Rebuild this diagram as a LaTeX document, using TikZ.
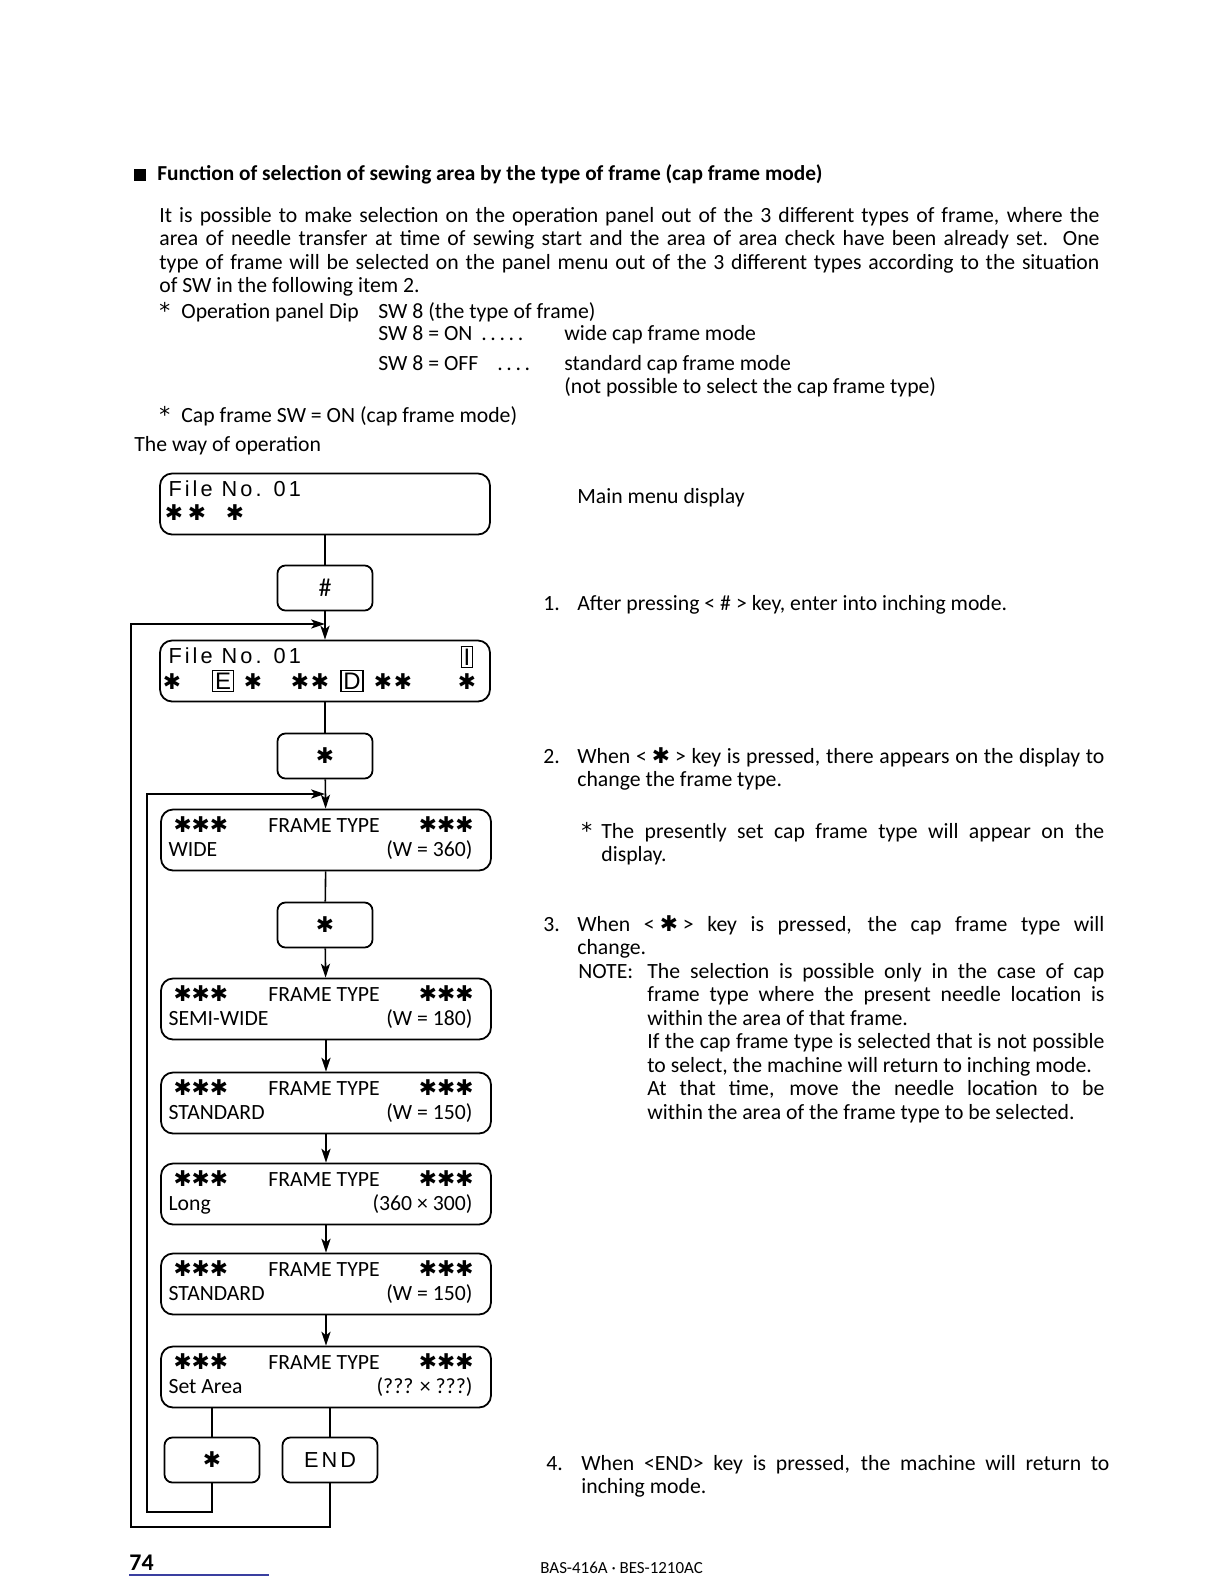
\documentclass[tikz,border=0pt]{standalone}
\usepackage{fontspec}
\setmainfont{Carlito}
\newfontfamily\astfont{DejaVu Sans}
\newfontfamily\lcdfont[LetterSpace=14]{Liberation Sans}
\usetikzlibrary{calc,arrows.meta}
\definecolor{pgline}{HTML}{3A3FA0}
\newcommand\hast{{\astfont\symbol{"2731}}}
\newcommand\bast{{\astfont *}}
\newcommand\keyref[1]{<\hspace{2.5pt}#1\hspace{2.5pt}>}
\newcommand\boxlet[1]{{\setlength\fboxsep{0.8pt}\setlength\fboxrule{0.7pt}\fbox{\fontspec{Liberation Sans}\fontsize{12}{12}\selectfont#1}}}

\begin{document}
\begin{tikzpicture}[x=0.5019pt,y=-0.5019pt,font=\fontsize{10.9}{11.8}\selectfont,
  txt/.style={inner sep=0,anchor=base west},
  disp/.style={draw,line width=0.9pt,rounded corners=6pt,minimum width=165.6pt,minimum height=30.6pt,inner sep=0},
  keybox/.style={draw,line width=0.9pt,rounded corners=4pt,minimum width=47.7pt,minimum height=22.6pt,inner sep=0},
  link/.style={line width=0.8pt},
  arr/.style={line width=0.8pt,-{Stealth[length=7pt,width=4.6pt,inset=1.8pt]}}]
\useasboundingbox[fill=white] (0,0) rectangle (1224,1584);

% heading and intro
\node[fill,minimum size=6pt,inner sep=0] (bul) at (140,175) {};
\node[txt,font=\fontsize{10.7}{11.8}\selectfont\bfseries] (head) at (157,180) {Function of selection of sewing area by the type of frame (cap frame mode)};
\node[txt,text width=471.8pt,align=justify] (intro) at (159,222) {It is possible to make selection on the operation panel out of the 3 different types of frame, where the\linebreak area of needle transfer at time of sewing start and the area of area check have been already set.\ \ One\linebreak type of frame will be selected on the panel menu out of the 3 different types according to the situation\linebreak of SW in the following item 2.};
\node[txt] (opast) at (159,318) {\bast};
\node[txt] (opdip) at (181,318) {Operation panel Dip};
\node[txt] (sw8) at (378,318) {SW 8 (the type of frame)};
\node[txt] (swon) at (378,340) {SW 8 = ON};
\node[txt] (dotsa) at (481,340) {.\,.\,.\,.\,.};
\node[txt] (widem) at (564,340) {wide cap frame mode};
\node[txt] (swoff) at (378,370) {SW 8 = OFF};
\node[txt] (dotsb) at (497,370) {.\,.\,.\,.};
\node[txt] (stdm) at (564,370) {standard cap frame mode};
\node[txt] (notp) at (564,393) {(not possible to select the cap frame type)};
\node[txt] (capast) at (159,422) {\bast};
\node[txt] (capsw) at (181,422) {Cap frame SW = ON (cap frame mode)};
\node[txt] (way) at (134,451) {The way of operation};

% displays and keys
\node[disp] (menu) at (325,504) {};
\node[txt] (menu-a) at ($(menu.north west)+(9,24)$) {\lcdfont File No. 01};
\foreach \x [count=\k] in {174,197,235}
  \node[txt,anchor=base] (menu-s\k) at (\x,520) {\hast};

\node[keybox] (hashk) at (325,588) {\fontsize{13}{13}\selectfont\#};

\node[disp] (inch) at (325,671) {};
\node[txt] (inch-a) at ($(inch.north west)+(9,24)$) {\lcdfont File No. 01};
\node[txt,anchor=base] (inch-i) at (467,665) {\boxlet{I}};
\foreach \x/\c [count=\k] in {172/\hast,223/\boxlet{E},253/\hast,300/\hast,320/\hast,352/\boxlet{D},383/\hast,403/\hast,467/\hast}
  \node[txt,anchor=base] (inch-s\k) at (\x,689) {\c};

\node[keybox] (ast1) at (325,756) {\hast};
\node[keybox] (ast2) at (325,925) {\hast};

\foreach \nm/\cy/\lbl/\val in {wide/840/WIDE/(W = 360),semi/1009/SEMI-WIDE/(W = 180),std/1103/STANDARD/(W = 150),long/1194/Long/(360 × 300),stdb/1284/STANDARD/(W = 150),area/1377/Set Area/(??? × ???)}{
  \node[disp] (\nm) at (326,\cy) {};
  \node[txt] (\nm-l) at ($(\nm.north west)+(13,24)$) {\hast\hast\hast};
  \node[txt,anchor=base] (\nm-t) at ($(\nm.north)+(-2,24)$) {FRAME TYPE};
  \node[txt,anchor=base east] (\nm-r) at ($(\nm.north east)+(-18,24)$) {\hast\hast\hast};
  \node[txt] (\nm-a) at ($(\nm.north west)+(8,48)$) {\lbl};
  \node[txt,anchor=base east] (\nm-v) at ($(\nm.north east)+(-19,48)$) {\val};
}

\node[keybox] (astb) at (212,1460) {\hast};
\node[keybox] (endk) at (330,1460) {\lcdfont END};

% flow
\draw[link] (menu) -- (hashk);
\draw[arr] (hashk) -- (inch);
\draw[link] (inch) -- (ast1);
\draw[arr] (ast1) -- (wide);
\draw[link] (wide) -- (ast2);
\draw[arr] (ast2) -- (semi);
\foreach \a/\b in {semi/std,std/long,long/stdb,stdb/area}
  \draw[arr] (\a) -- (\b);
\draw[link] (area.south -| astb) -- (astb);
\draw[link] (area.south -| endk) -- (endk);

% return loops
\coordinate (loopa) at (147,1512);
\coordinate (loopb) at (131,1527);
\coordinate (joina) at (325,794);
\coordinate (joinb) at (325,624);
\draw[arr] (astb) |- (loopa) |- (joina);
\draw[arr] (endk) |- (loopb) |- (joinb);

% steps
\node[txt] (mmd) at (577,503) {Main menu display};
\node[txt] (n1) at (543,610) {1.};
\node[txt] (s1) at (577,610) {After pressing \keyref{\#} key, enter into inching mode.};
\node[txt] (n2) at (543,763) {2.};
\node[txt,text width=264.5pt,align=justify] (s2) at (577,763) {When \keyref{\hast} key is pressed, there appears on the display to\linebreak change the frame type.};
\node[txt] (n2a) at (581,838) {\bast};
\node[txt,text width=252.4pt,align=justify] (s2a) at (601,838) {The presently set cap frame type will appear on the\linebreak display.};
\node[txt] (n3) at (543,931) {3.};
\node[txt,text width=264.5pt,align=justify] (s3) at (577,931) {When \keyref{\hast} key is pressed, the cap frame type will\linebreak change.};
\node[txt] (note) at (578,978) {NOTE:};
\node[txt,text width=229.4pt,align=justify] (s3n) at (647,978) {The selection is possible only in the case of cap\linebreak frame type where the present needle location is\linebreak within the area of that frame.\\ If the cap frame type is selected that is not possible\linebreak to select, the machine will return to inching mode.\\ At that time, move the needle location to be\linebreak within the area of the frame type to be selected.};
\node[txt] (n4) at (546,1470) {4.};
\node[txt,text width=265pt,align=justify] (s4) at (581,1470) {When <END> key is pressed, the machine will return to\linebreak inching mode.};

% footer
\node[txt,font=\fontsize{12}{14}\selectfont\bfseries] (pg) at (129,1570) {74};
\draw[pgline,line width=0.6pt] ($(pg.base west)+(0,5)$) -- ++(140,0);
\node[txt,font=\fontsize{8.5}{9}\selectfont] (model) at (540,1573) {BAS-416A · BES-1210AC};
\end{tikzpicture}
\end{document}
